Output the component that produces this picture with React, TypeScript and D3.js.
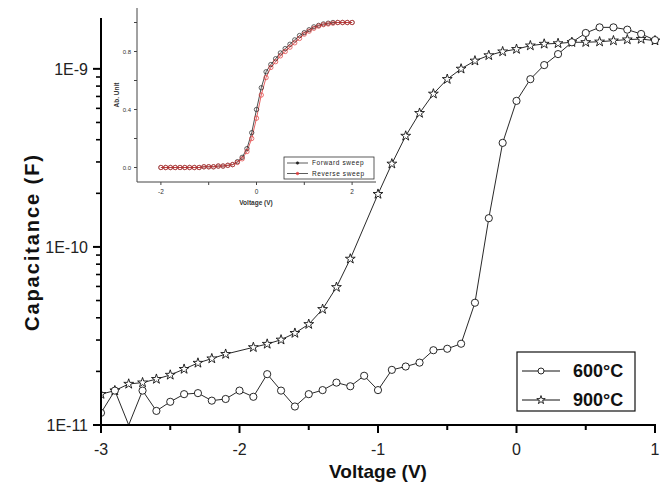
import React from "react";
import * as d3 from "d3";

// ---------- Main chart data ----------
const V600 = [-3.0, -2.9, -2.8, -2.7, -2.6, -2.5, -2.4, -2.3, -2.2, -2.1, -2.0, -1.9, -1.8, -1.7, -1.6, -1.5, -1.4, -1.3, -1.2, -1.1, -1.0, -0.9, -0.8, -0.7, -0.6, -0.5, -0.4, -0.3, -0.2, -0.1, 0.0, 0.1, 0.2, 0.3, 0.4, 0.5, 0.6, 0.7, 0.8, 0.9, 1.0];
const C600 = [1.17e-11, 1.56e-11, 1.0e-11, 1.56e-11, 1.2e-11, 1.35e-11, 1.49e-11, 1.51e-11, 1.37e-11, 1.4e-11, 1.56e-11, 1.44e-11, 1.93e-11, 1.56e-11, 1.27e-11, 1.49e-11, 1.57e-11, 1.73e-11, 1.65e-11, 1.89e-11, 1.57e-11, 2.04e-11, 2.13e-11, 2.24e-11, 2.63e-11, 2.68e-11, 2.86e-11, 4.86e-11, 1.45e-10, 3.84e-10, 6.61e-10, 8.75e-10, 1.05e-9, 1.21e-9, 1.41e-9, 1.59e-9, 1.71e-9, 1.71e-9, 1.66e-9, 1.57e-9, 1.45e-9];

const V900 = [-3.0, -2.9, -2.8, -2.7, -2.6, -2.5, -2.4, -2.3, -2.2, -2.1, -1.9, -1.8, -1.7, -1.6, -1.5, -1.4, -1.3, -1.2, -1.0, -0.9, -0.8, -0.7, -0.6, -0.5, -0.4, -0.3, -0.2, -0.1, 0.0, 0.1, 0.2, 0.3, 0.4, 0.5, 0.6, 0.7, 0.8, 0.9, 1.0];
const C900 = [1.49e-11, 1.56e-11, 1.7e-11, 1.73e-11, 1.81e-11, 1.91e-11, 2.06e-11, 2.23e-11, 2.36e-11, 2.5e-11, 2.73e-11, 2.85e-11, 3.01e-11, 3.28e-11, 3.68e-11, 4.47e-11, 5.94e-11, 8.57e-11, 1.98e-10, 2.93e-10, 4.2e-10, 5.64e-10, 7.24e-10, 8.75e-10, 1.0e-9, 1.11e-9, 1.19e-9, 1.25e-9, 1.29e-9, 1.35e-9, 1.38e-9, 1.39e-9, 1.41e-9, 1.41e-9, 1.42e-9, 1.44e-9, 1.46e-9, 1.47e-9, 1.44e-9];

const X_TICKS = [-3, -2, -1, 0, 1];
const X_TICK_LABELS = ["-3", "-2", "-1", "0", "1"];
const X_MINOR = [-2.5, -1.5, -0.5, 0.5];
const Y_TICKS = [1e-11, 1e-10, 1e-9];
const Y_TICK_LABELS = ["1E-11", "1E-10", "1E-9"];
const LEGEND = ["600\u00B0C", "900\u00B0C"];

// ---------- Inset data ----------
const IV = [-2.0, -1.9, -1.8, -1.7, -1.6, -1.5, -1.4, -1.3, -1.2, -1.1, -1.0, -0.9, -0.8, -0.7, -0.6, -0.5, -0.4, -0.3, -0.2, -0.1, 0.0, 0.1, 0.2, 0.3, 0.4, 0.5, 0.6, 0.7, 0.8, 0.9, 1.0, 1.1, 1.2, 1.3, 1.4, 1.5, 1.6, 1.7, 1.8, 1.9, 2.0];
const FORWARD = [0.0, 0.0, 0.0, 0.0, 0.0, 0.0, 0.0, 0.0, 0.0, 0.005, 0.005, 0.005, 0.01, 0.01, 0.015, 0.02, 0.04, 0.07, 0.13, 0.24, 0.4, 0.55, 0.66, 0.71, 0.75, 0.79, 0.82, 0.85, 0.88, 0.91, 0.93, 0.95, 0.97, 0.98, 0.99, 0.995, 1.0, 1.0, 1.0, 1.0, 1.0];
const REVERSE = [0.0, 0.0, 0.0, 0.0, 0.0, 0.0, 0.0, 0.0, 0.0, 0.005, 0.005, 0.005, 0.01, 0.01, 0.015, 0.02, 0.035, 0.06, 0.11, 0.2, 0.34, 0.5, 0.62, 0.69, 0.73, 0.77, 0.8, 0.83, 0.86, 0.89, 0.92, 0.94, 0.96, 0.975, 0.985, 0.99, 0.995, 1.0, 1.0, 1.0, 1.0];
const IX_TICKS = [-2, -1, 0, 1, 2];
const IX_LABELS = ["-2", "", "0", "", "2"];
const IY_TICKS = [0, 0.2, 0.4, 0.6, 0.8, 1.0];
const IY_LABELS = ["0.0", "", "0.4", "", "0.8", ""];
const INSET_LEGEND = ["Forward sweep", "Reverse sweep"];

const FONT = "'Liberation Sans', Arial, Helvetica, sans-serif";

export default function App() {
  const x = d3.scaleLinear().domain([-3, 1]).range([101, 655]);
  const y = d3.scaleLog().domain([1e-11, 1.93e-9]).range([425, 18]);

  const ix = d3.scaleLinear().domain([-2.5, 2.5]).range([137, 376]);
  const iy = d3.scaleLinear().domain([-0.1, 1.1]).range([182, 8]);

  const line = d3
    .line<[number, number]>()
    .x((d) => x(d[0]))
    .y((d) => y(d[1]));
  const iline = d3
    .line<[number, number]>()
    .x((d) => ix(d[0]))
    .y((d) => iy(d[1]));

  const s600: [number, number][] = V600.map((v, i) => [v, C600[i]]);
  const s900: [number, number][] = V900.map((v, i) => [v, C900[i]]);
  const fwd: [number, number][] = IV.map((v, i) => [v, FORWARD[i]]);
  const rev: [number, number][] = IV.map((v, i) => [v, REVERSE[i]]);

  const starPath = d3.symbol().type(d3.symbolStar).size(30)() as string;
  const starLegend = d3.symbol().type(d3.symbolStar).size(22)() as string;

  // minor y ticks
  const yMinor: number[] = [];
  [1e-11, 1e-10, 1e-9].forEach((dec) => {
    for (let k = 2; k <= 9; k++) {
      const v = dec * k;
      if (v <= 1.93e-9) yMinor.push(v);
    }
  });

  return (
    <svg
      width={662}
      height={491}
      style={{ position: "absolute", left: 0, top: 0, background: "#fff" }}
      fontFamily={FONT}
    >
      <defs>
        <clipPath id="plotClip">
          <rect x={101} y={10} width={560} height={415} />
        </clipPath>
      </defs>
      <rect width={662} height={491} fill="#fff" />

      {/* ---------- Main data ---------- */}
      <g clipPath="url(#plotClip)">
        <path d={line(s900) as string} fill="none" stroke="#111" strokeWidth={0.9} />
        <path d={line(s600) as string} fill="none" stroke="#111" strokeWidth={0.9} />
        {s900.map((d, i) => (
          <path
            key={"s" + i}
            d={starPath}
            transform={`translate(${x(d[0])},${y(d[1])})`}
            fill="#fff"
            stroke="#111"
            strokeWidth={0.9}
          />
        ))}
        {s600
          .filter((d) => d[1] > 1e-11)
          .map((d, i) => (
            <circle key={"c" + i} cx={x(d[0])} cy={y(d[1])} r={3.6} fill="#fff" stroke="#111" strokeWidth={0.9} />
          ))}
      </g>

      {/* ---------- Main axes ---------- */}
      <line x1={101} x2={101} y1={18} y2={426} stroke="#000" strokeWidth={2} />
      <line x1={100} x2={656} y1={425} y2={425} stroke="#000" strokeWidth={2} />
      {X_TICKS.map((t, i) => (
        <g key={"xt" + i}>
          <line x1={x(t)} x2={x(t)} y1={425} y2={433} stroke="#000" strokeWidth={2} />
          <text x={x(t)} y={455} textAnchor="middle" fontSize={16} fill="#222">
            {X_TICK_LABELS[i]}
          </text>
        </g>
      ))}
      {X_MINOR.map((t, i) => (
        <line key={"xm" + i} x1={x(t)} x2={x(t)} y1={425} y2={430} stroke="#000" strokeWidth={2} />
      ))}
      {Y_TICKS.map((t, i) => (
        <g key={"yt" + i}>
          <line x1={93} x2={101} y1={y(t)} y2={y(t)} stroke="#000" strokeWidth={2} />
          <text x={88} y={y(t)} dy="0.36em" textAnchor="end" fontSize={16} fill="#222">
            {Y_TICK_LABELS[i]}
          </text>
        </g>
      ))}
      {yMinor.map((t, i) => (
        <line key={"ym" + i} x1={96} x2={101} y1={y(t)} y2={y(t)} stroke="#000" strokeWidth={1.6} />
      ))}

      <text x={378} y={478} textAnchor="middle" fontSize={19} fontWeight="bold" fill="#111">
        Voltage (V)
      </text>
      <text
        transform="translate(39,243) rotate(-90)"
        textAnchor="middle"
        fontSize={20}
        fontWeight="bold"
        fill="#111"
        textLength={176}
        lengthAdjust="spacing"
      >
        Capacitance (F)
      </text>

      {/* ---------- Main legend ---------- */}
      <rect x={517} y={352} width={118} height={59} fill="#fff" stroke="#111" strokeWidth={1.2} />
      {[0, 1].map((i) => {
        const ly = 371 + i * 29;
        return (
          <g key={"lg" + i}>
            <line x1={522} x2={560} y1={ly} y2={ly} stroke="#111" strokeWidth={1} />
            {i === 0 ? (
              <circle cx={541} cy={ly} r={3} fill="#fff" stroke="#111" strokeWidth={0.9} />
            ) : (
              <path d={starLegend} transform={`translate(541,${ly})`} fill="#fff" stroke="#111" strokeWidth={0.9} />
            )}
            <text x={573} y={ly} dy="0.36em" fontSize={18} fontWeight="bold" fill="#111">
              {LEGEND[i]}
            </text>
          </g>
        );
      })}

      {/* ---------- Inset ---------- */}
      <g>
        <path d={iline(fwd) as string} fill="none" stroke="#222" strokeWidth={0.8} />
        <path d={iline(rev) as string} fill="none" stroke="#e03a3a" strokeWidth={0.8} />
        {fwd.map((d, i) => (
          <circle key={"f" + i} cx={ix(d[0])} cy={iy(d[1])} r={2.2} fill="none" stroke="#222" strokeWidth={0.7} />
        ))}
        {rev.map((d, i) => (
          <circle key={"r" + i} cx={ix(d[0])} cy={iy(d[1])} r={2.2} fill="none" stroke="#e03a3a" strokeWidth={0.7} />
        ))}

        <line x1={137} x2={137} y1={8} y2={182} stroke="#444" strokeWidth={1} />
        <line x1={137} x2={376} y1={182} y2={182} stroke="#444" strokeWidth={1} />
        {IX_TICKS.map((t, i) => (
          <g key={"ixt" + i}>
            <line x1={ix(t)} x2={ix(t)} y1={182} y2={185} stroke="#444" strokeWidth={1} />
            <text x={ix(t)} y={194} textAnchor="middle" fontSize={6.5} fill="#333">
              {IX_LABELS[i]}
            </text>
          </g>
        ))}
        {IY_TICKS.map((t, i) => (
          <g key={"iyt" + i}>
            <line x1={134} x2={137} y1={iy(t)} y2={iy(t)} stroke="#444" strokeWidth={1} />
            <text x={131} y={iy(t)} dy="0.35em" textAnchor="end" fontSize={6} fill="#333">
              {IY_LABELS[i]}
            </text>
          </g>
        ))}
        <text x={256} y={205} textAnchor="middle" fontSize={6.5} fontWeight="bold" fill="#333">
          Voltage (V)
        </text>
        <text transform="translate(119,95) rotate(-90)" textAnchor="middle" fontSize={6.5} fontWeight="bold" fill="#333">
          Ab. Unit
        </text>

        <rect x={284} y={157} width={90} height={22} fill="#fff" stroke="#333" strokeWidth={0.8} />
        {[0, 1].map((i) => {
          const ly = 163 + i * 10.5;
          const col = i === 0 ? "#222" : "#e03a3a";
          return (
            <g key={"il" + i}>
              <line x1={287} x2={308} y1={ly} y2={ly} stroke="#333" strokeWidth={0.8} />
              <circle cx={297.5} cy={ly} r={1.3} fill={col} stroke={col} strokeWidth={0.5} />
              <text x={312} y={ly} dy="0.35em" fontSize={6.5} letterSpacing={0.6} fill="#222">
                {INSET_LEGEND[i]}
              </text>
            </g>
          );
        })}
      </g>
    </svg>
  );
}
